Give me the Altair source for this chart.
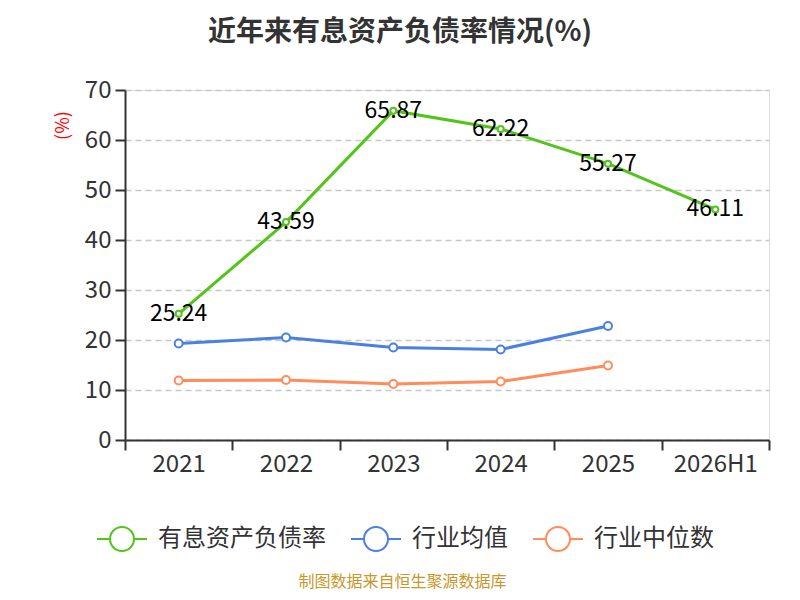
import altair as alt
import pandas as pd

years = ["2021", "2022", "2023", "2024", "2025", "2026H1"]
series_names = ["有息资产负债率", "行业均值", "行业中位数"]
colors = ["#52c41a", "#4a80e2", "#ff8c5a"]

debt_ratio = [25.24, 43.59, 65.87, 62.22, 55.27, 46.11]
industry_avg = [19.3, 20.5, 18.5, 18.1, 22.8]
industry_median = [11.9, 12.0, 11.2, 11.7, 14.9]

rows = []
for name, vals in zip(series_names, [debt_ratio, industry_avg, industry_median]):
    for y, v in zip(years, vals):
        rows.append({"year": y, "value": v, "series": name})
df = pd.DataFrame(rows)

FONT = "Noto Sans CJK SC"

x_enc = alt.X(
    "year:N",
    sort=years,
    scale=alt.Scale(domain=years, paddingInner=0, paddingOuter=0),
    axis=alt.Axis(
        title="制图数据来自恒生聚源数据库",
        titleColor="#c9962a",
        titleFontSize=16,
        titleFontWeight="normal",
        titleFont=FONT,
        titleX=277,
        titleY=141,
        titleAlign="center",
        titleBaseline="middle",
        labelAngle=0,
        labelFontSize=24,
        labelColor="#333333",
        labelFont=FONT,
        labelPadding=2,
        tickBand="extent",
        tickSize=10,
        tickColor="#333333",
        tickWidth=2,
        domainColor="#333333",
        domainWidth=2,
        grid=False,
    ),
)
y_enc = alt.Y(
    "value:Q",
    scale=alt.Scale(domain=[0, 70], nice=False),
    axis=alt.Axis(
        title="(%)",
        titleColor="red",
        titleFontSize=18,
        titleFontWeight="normal",
        titleFont=FONT,
        titleX=-62,
        titleY=35,
        titleAngle=270,
        titleAlign="center",
        titleBaseline="middle",
        values=[0, 10, 20, 30, 40, 50, 60, 70],
        labelFontSize=24,
        labelColor="#333333",
        labelFont=FONT,
        labelPadding=4,
        tickSize=10,
        tickColor="#333333",
        tickWidth=2,
        domainColor="#333333",
        domainWidth=2,
        grid=True,
        gridColor="#c8c8c8",
        gridDash=[6, 4],
        gridWidth=1.5,
    ),
)
color_enc = alt.Color(
    "series:N",
    scale=alt.Scale(domain=series_names, range=colors),
    legend=alt.Legend(
        title=None,
        orient="none",
        legendX=-29,
        legendY=423,
        direction="horizontal",
        columns=3,
        padding=0,
        labelFontSize=24,
        labelColor="#333333",
        labelFont=FONT,
        labelOffset=10,
        labelLimit=400,
        columnPadding=21,
        symbolType="M-1,0L-0.48,0M0.48,0L1,0M0.48,0A0.48,0.48,0,1,1,-0.48,0A0.48,0.48,0,1,1,0.48,0",
        symbolSize=2500,
        symbolStrokeWidth=2,
        symbolFillColor="white",
    ),
)
stroke_enc = alt.Stroke(
    "series:N", scale=alt.Scale(domain=series_names, range=colors), legend=None
)

base = alt.Chart(df)

lines = base.mark_line(strokeWidth=3).encode(x=x_enc, y=y_enc, color=color_enc)
points_main = (
    base.transform_filter(alt.datum.series == "有息资产负债率")
    .mark_point(filled=True, fill="white", strokeWidth=2, opacity=1, size=36)
    .encode(x=x_enc, y=y_enc, stroke=stroke_enc)
)
points_ind = (
    base.transform_filter(alt.datum.series != "有息资产负债率")
    .mark_point(filled=True, fill="white", strokeWidth=2, opacity=1, size=64)
    .encode(x=x_enc, y=y_enc, stroke=stroke_enc)
)
labels = (
    base.transform_filter(alt.datum.series == "有息资产负债率")
    .mark_text(fontSize=23, color="black", font=FONT, align="center", baseline="middle")
    .encode(x=x_enc, y=y_enc, text=alt.Text("value:Q", format=".2f"))
)

chart = (
    alt.layer(lines, points_ind, points_main, labels)
    .properties(
        width=644,
        height=350,
        title=alt.TitleParams(
            text="近年来有息资产负债率情况(%)",
            fontSize=28,
            fontWeight="bold",
            color="#333333",
            font=FONT,
            anchor="middle",
            frame="group",
            dx=-47,
            offset=31,
        ),
        autosize=alt.AutoSizeParams(type="none"),
        padding={"left": 117, "top": 82, "right": 15, "bottom": 152},
    )
    .configure_view(stroke=None)
    .configure(background="white")
)

chart.save("out.html", embed_options={"renderer": "svg", "actions": False})
